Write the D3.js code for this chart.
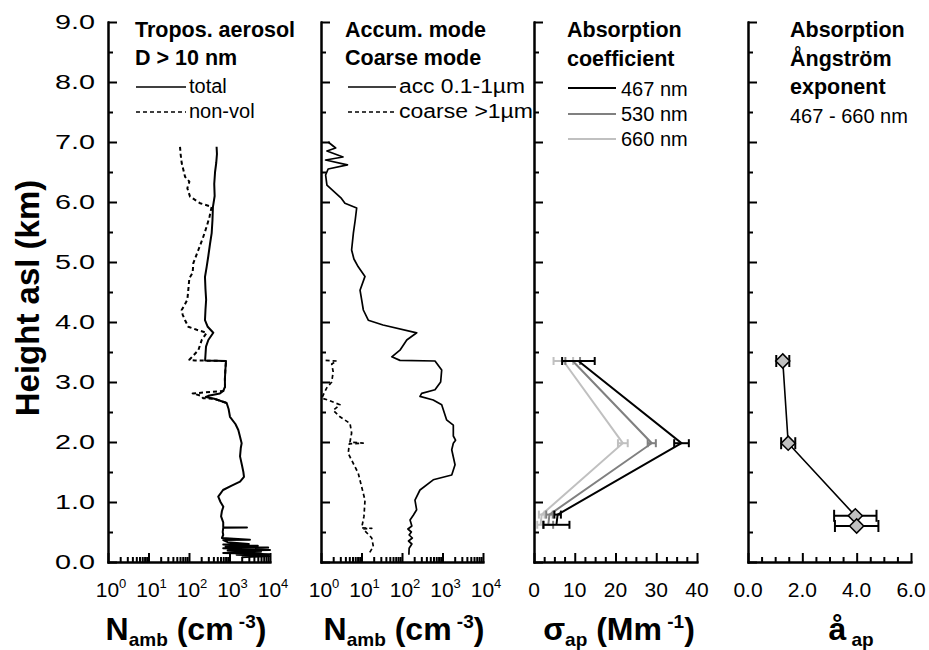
<!DOCTYPE html>
<html><head><meta charset="utf-8">
<script src="https://cdn.jsdelivr.net/npm/d3@7"></script>
<style>body{margin:0;background:#fff} svg text{font-family:"Liberation Sans",Arial,sans-serif;fill:#000}</style>
</head><body><svg id="c" width="929" height="650"></svg>
<script>
// ---------- DATA ----------
const yTickValues = [0,1,2,3,4,5,6,7,8,9];
const yTickLabels = ["0.0","1.0","2.0","3.0","4.0","5.0","6.0","7.0","8.0","9.0"];
const logTickExps = [0,1,2,3,4];
const sigmaTicks = [0,10,20,30,40];
const aapTicks = [0,2,4,6];
const aapTickLabels = ["0.0","2.0","4.0","6.0"];

// Panel 1: total aerosol (height km, N cm-3)
const totalH = [6.92,6.8,6.65,6.5,6.3,6.1,5.92,5.7,5.48,5.3,5.1,4.92,4.75,4.55,4.37,4.2,4.03,3.92,3.82,3.7,3.59,3.45,3.36,3.35,3.2,3.05,2.92,2.85,2.81,2.77,2.75,2.72,2.65,2.55,2.42,2.3,2.2,2.1,1.98,1.9,1.76,1.6,1.5,1.42,1.34,1.27,1.2,1.09,1.0,0.92,0.85,0.76,0.66,0.58,0.575,0.57,0.5,0.45,0.4,0.37,0.365,0.33,0.3,0.29,0.27,0.26,0.24,0.23,0.2,0.19,0.17,0.15,0.13,0.12,0.1,0.08];
const totalN = [480,490,470,440,420,430,390,380,363,330,300,273,248,255,265,255,248,290,398,300,263,255,250,820,790,770,774,700,580,300,260,420,851,950,1028,1400,1650,1800,1995,1900,1820,2050,2200,2280,1820,1100,692,527,600,705,650,620,700,700,2700,700,680,700,650,3200,700,900,3000,700,5000,800,9000,700,10000,900,6000,700,9500,1500,9800,2000];
// Panel 1: non-volatile
const nonvolH = [6.92,6.8,6.65,6.42,6.34,6.23,6.09,5.98,5.92,5.75,5.59,5.4,5.2,4.98,4.82,4.73,4.53,4.37,4.3,4.2,4.12,4.03,3.92,3.87,3.82,3.7,3.53,3.37,3.36,3.35,3.2,3.05,2.92,2.85,2.81,2.77,2.73,2.72,2.65];
const nonvolN = [60,62,66,80,102,91,106,187,363,320,273,220,170,128,123,102,96,91,80,66,70,80,96,155,273,206,170,102,141,820,790,770,774,700,123,200,222,420,851];
// Panel 2: accumulation mode 0.1-1 um
const accH = [7.0,6.9,6.85,6.75,6.7,6.62,6.55,6.45,6.28,6.06,5.98,5.9,5.7,5.48,5.2,5.05,4.92,4.76,4.53,4.37,4.2,4.03,3.95,3.82,3.7,3.53,3.42,3.36,3.35,3.2,3.0,2.87,2.81,2.76,2.7,2.62,2.37,2.28,2.1,2.03,1.98,1.87,1.62,1.45,1.37,1.2,1.03,0.87,0.78,0.7,0.6,0.55,0.5,0.45,0.4,0.35,0.3,0.23,0.12];
const accN = [1.5,2.3,1.4,3.5,1.3,4.5,1.5,1.3,1.4,3.2,3.9,7.6,7.0,6.3,5.7,6.5,8.3,12.2,9.2,10.1,11.1,14.7,34,231,131,89,56,89,653,955,900,653,306,278,590,955,1260,1850,1850,2100,1850,1690,2040,1690,590,278,209,230,190,158,175,140,170,150,180,145,175,150,148];
// Panel 2: coarse mode > 1 um
const coarseH = [3.36,3.35,3.3,3.17,3.0,2.9,2.73,2.7,2.62,2.53,2.42,2.31,2.15,2.0,1.98,1.97,1.81,1.48,1.03,0.76,0.57,0.56,0.55,0.4,0.26,0.12];
const coarseN = [1.3,2.44,1.84,2.0,1.84,1.38,1.04,1.49,2.94,2.0,2.94,5.2,5.7,5.2,11,5.0,4.7,8.3,12.2,11.5,10.1,17.9,11,17.9,19.6,14.7];
// Panel 3: absorption coefficient (Mm-1)
const absH = [3.35,1.98,0.79,0.62];
const abs467 = [10.9,36.2,5.8,5.5];
const abs467Err = [4.0,1.8,0.8,3.2];
const abs530 = [9.5,28.9,3.8,3.5];
const abs530Err = [1.8,1.0,0.8,1.2];
const abs660 = [7.2,21.8,1.9,1.6];
const abs660Err = [2.4,1.2,0.7,0.8];
// Panel 4: absorption Angstrom exponent
const aapH = [3.35,1.98,0.77,0.6];
const aapVal = [1.28,1.48,3.95,4.0];
const aapErr = [0.24,0.26,0.78,0.8];

// ---------- DRAW ----------
const svg = d3.select("#c");
const y = d3.scaleLinear().domain([0,9]).range([562,22]);
const x1 = d3.scaleLog().domain([1,1e4]).range([108,270]);
const x2 = d3.scaleLog().domain([1,1e4]).range([321,483]);
const x3 = d3.scaleLinear().domain([0,40]).range([534,697]);
const x4 = d3.scaleLinear().domain([0,6]).range([748,911]);

function styleAxis(g){
  g.selectAll("path.domain").attr("stroke","#000").attr("stroke-width",2).attr("stroke-linecap","square");
  g.selectAll(".tick line").attr("stroke","#000").attr("stroke-width",2);
  g.selectAll(".tick text").remove();
}
function yAxis(x0){
  const minor = d3.range(0.5,9,1);
  svg.append("g").attr("transform",`translate(${x0},0)`)
    .call(d3.axisRight(y).tickValues(minor).tickSize(5).tickSizeOuter(0).tickFormat("")).call(styleAxis);
  svg.append("g").attr("transform",`translate(${x0},0)`)
    .call(d3.axisRight(y).tickValues(yTickValues).tickSize(9).tickSizeOuter(0).tickFormat("")).call(styleAxis);
}
function xAxis(sc, major, minor){
  svg.append("g").attr("transform","translate(0,562)")
    .call(d3.axisTop(sc).tickValues(minor).tickSize(5).tickSizeOuter(0).tickFormat("")).call(styleAxis);
  svg.append("g").attr("transform","translate(0,562)")
    .call(d3.axisTop(sc).tickValues(major).tickSize(9).tickSizeOuter(0).tickFormat("")).call(styleAxis);
}
const logMajor = logTickExps.map(e=>Math.pow(10,e));
const logMinor = [];
for(let e=0;e<4;e++) for(let k=2;k<10;k++) logMinor.push(k*Math.pow(10,e));

[x1,x2].forEach(sc=>{ xAxis(sc, logMajor, logMinor); });
xAxis(x3, sigmaTicks, d3.range(0,40.01,2.5).filter(v=>v%10!==0));
xAxis(x4, aapTicks, d3.range(0,6.01,0.5).filter(v=>v%2!==0));
[108,321,534,748].forEach(yAxis);

// y tick labels
svg.append("g").selectAll("text").data(yTickValues).join("text")
  .attr("x",95).attr("y",d=>y(d)+7).attr("text-anchor","end")
  .attr("font-size",20).attr("textLength",40).attr("lengthAdjust","spacingAndGlyphs")
  .text((d,i)=>yTickLabels[i]);

// log x tick labels
[x1,x2].forEach(sc=>{
  const t = svg.append("g").selectAll("text").data(logTickExps).join("text")
    .attr("x",d=>sc(Math.pow(10,d))+3).attr("y",597).attr("text-anchor","middle").attr("font-size",21);
  t.append("tspan").text("10");
  t.append("tspan").attr("font-size",13).attr("dy",-9).text(d=>d);
});
svg.append("g").selectAll("text").data(sigmaTicks).join("text")
  .attr("x",d=>x3(d)).attr("y",597).attr("text-anchor","middle").attr("font-size",21).text(d=>d);
svg.append("g").selectAll("text").data(aapTicks).join("text")
  .attr("x",d=>x4(d)).attr("y",597).attr("text-anchor","middle").attr("font-size",21).text((d,i)=>aapTickLabels[i]);

// lines
function profile(sc, H, V, dash, color, w){
  const pts = H.map((h,i)=>[sc(V[i]), y(h)]);
  svg.append("path").datum(pts).attr("d",d3.line()).attr("fill","none")
    .attr("stroke",color||"#000").attr("stroke-width",w||1.6)
    .attr("stroke-dasharray",dash?"4,3":null).attr("stroke-linejoin","round");
}
profile(x1, nonvolH, nonvolN, true, "#000", 2);
profile(x1, totalH, totalN, false, "#000", 2);
profile(x2, coarseH, coarseN, true, "#000", 1.7);
profile(x2, accH, accN, false, "#000", 1.7);

// absorption coefficient
const absSeries = [
  {v:abs660,e:abs660Err,c:"#c0c0c0"},
  {v:abs530,e:abs530Err,c:"#808080"},
  {v:abs467,e:abs467Err,c:"#000000"}];
absSeries.forEach(s=>{
  const pts = absH.map((h,i)=>[x3(s.v[i]),y(h)]);
  svg.append("path").datum(pts).attr("d",d3.line()).attr("fill","none").attr("stroke",s.c).attr("stroke-width",2);
  const g = svg.append("g").attr("stroke",s.c).attr("stroke-width",2);
  absH.forEach((h,i)=>{
    const a=x3(s.v[i]-s.e[i]), b=x3(s.v[i]+s.e[i]), yy=y(h);
    g.append("line").attr("x1",a).attr("x2",b).attr("y1",yy).attr("y2",yy);
    g.append("line").attr("x1",a).attr("x2",a).attr("y1",yy-4).attr("y2",yy+4);
    g.append("line").attr("x1",b).attr("x2",b).attr("y1",yy-4).attr("y2",yy+4);
  });
});

// angstrom
{
  const pts = aapH.map((h,i)=>[x4(aapVal[i]),y(h)]);
  svg.append("path").datum(pts).attr("d",d3.line()).attr("fill","none").attr("stroke","#000").attr("stroke-width",1.6);
  const g = svg.append("g").attr("stroke","#000").attr("stroke-width",2);
  aapH.forEach((h,i)=>{
    const a=x4(aapVal[i]-aapErr[i]), b=x4(aapVal[i]+aapErr[i]), yy=y(h);
    g.append("line").attr("x1",a).attr("x2",b).attr("y1",yy).attr("y2",yy);
    g.append("line").attr("x1",a).attr("x2",a).attr("y1",yy-6).attr("y2",yy+6);
    g.append("line").attr("x1",b).attr("x2",b).attr("y1",yy-6).attr("y2",yy+6);
  });
  svg.append("g").selectAll("path").data(pts).join("path")
    .attr("d",d3.symbol(d3.symbolSquare,100)())
    .attr("transform",d=>`translate(${d[0]},${d[1]}) rotate(45)`)
    .attr("fill","#c0c0c0").attr("stroke","#000").attr("stroke-width",1.5);
}

// titles & legends
function txt(x,yy,s,opts){
  const t = svg.append("text").attr("x",x).attr("y",yy).text(s)
    .attr("font-size",(opts&&opts.size)||20).attr("font-weight",(opts&&opts.bold)?"bold":"normal");
  if(opts&&opts.len) t.attr("textLength",opts.len).attr("lengthAdjust","spacingAndGlyphs");
  return t;
}
const TB = 21.5;
txt(135,37,"Tropos. aerosol",{bold:true,size:TB});
txt(135,65,"D > 10 nm",{bold:true,size:TB});
svg.append("line").attr("x1",136).attr("x2",186).attr("y1",87).attr("y2",87).attr("stroke","#000").attr("stroke-width",1.6);
txt(189,93,"total");
svg.append("line").attr("x1",136).attr("x2",186).attr("y1",112).attr("y2",112).attr("stroke","#000").attr("stroke-width",1.6).attr("stroke-dasharray","4,3");
txt(189,118,"non-vol");

txt(345,37,"Accum. mode",{bold:true,size:TB});
txt(345,65,"Coarse mode",{bold:true,size:TB});
svg.append("line").attr("x1",348).attr("x2",396).attr("y1",87).attr("y2",87).attr("stroke","#000").attr("stroke-width",1.6);
txt(399,93,"acc 0.1-1µm",{len:126});
svg.append("line").attr("x1",348).attr("x2",396).attr("y1",112).attr("y2",112).attr("stroke","#000").attr("stroke-width",1.6).attr("stroke-dasharray","4,3");
txt(399,118,"coarse >1µm",{len:134});

txt(567,37,"Absorption",{bold:true,size:TB});
txt(567,66,"coefficient",{bold:true,size:TB});
[["467 nm","#000",88,96],["530 nm","#808080",114,121],["660 nm","#c0c0c0",139,146]].forEach(r=>{
  svg.append("line").attr("x1",568).attr("x2",616).attr("y1",r[2]).attr("y2",r[2]).attr("stroke",r[1]).attr("stroke-width",2);
  txt(621,r[3],r[0]);
});

txt(790,37,"Absorption",{bold:true,size:TB});
txt(790,66,"Ångström",{bold:true,size:TB});
txt(790,94,"exponent",{bold:true,size:TB});
txt(790,123,"467 - 660 nm");

// axis titles
svg.append("text").attr("transform","translate(39,298) rotate(-90)").attr("text-anchor","middle")
  .attr("font-size",33).attr("font-weight","bold").text("Height asl (km)");

function bottomTitle(cx, parts){
  const g = svg.append("g").attr("transform",`translate(${cx},640)`);
  const t = g.append("text").attr("text-anchor","middle").attr("font-weight","bold").attr("font-size",32);
  parts.forEach(p=>{ t.append("tspan").attr("font-size",p[1]).attr("dy",p[2]).text(p[0]); });
}
bottomTitle(186,[["N",32,0],["amb",19,6],[" (cm",32,-6],[" -3",19,-12],[")",32,12]]);
bottomTitle(404,[["N",32,0],["amb",19,6],[" (cm",32,-6],[" -3",19,-12],[")",32,12]]);
bottomTitle(619,[["σ",32,0],["ap",19,6],[" (Mm",32,-6],[" -1",19,-12],[")",32,12]]);
bottomTitle(851,[["å",32,0],[" ap",19,6]]);
</script></body></html>
